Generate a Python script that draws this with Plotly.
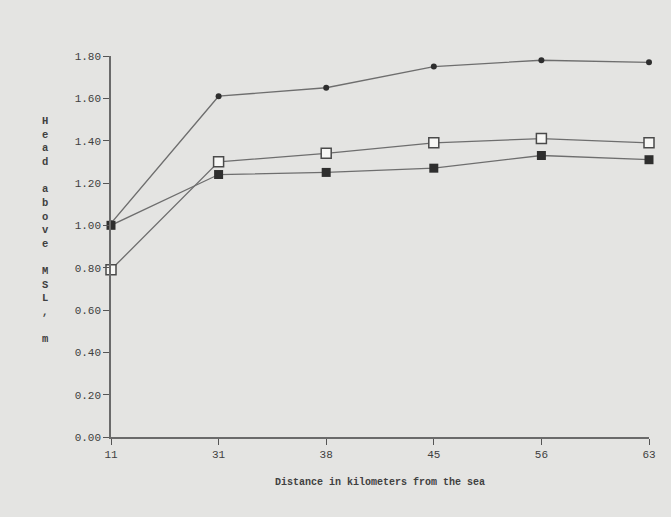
import plotly.graph_objects as go

# Distance from the sea (km), shown as evenly spaced categories
distance_km = ["11", "31", "38", "45", "56", "63"]

# Head above mean sea level (m) for three wells / observation series
head_series_a = [1.01, 1.61, 1.65, 1.75, 1.78, 1.77]   # filled dots
head_series_b = [0.79, 1.30, 1.34, 1.39, 1.41, 1.39]   # open squares
head_series_c = [1.00, 1.24, 1.25, 1.27, 1.33, 1.31]   # filled squares

y_ticks = [0.0, 0.2, 0.4, 0.6, 0.8, 1.0, 1.2, 1.4, 1.6, 1.8]
y_title = "Head above MSL, m"

line_col = "#6e6e6e"
mark_col = "#2e2e2e"
text_col = "#404040"
bg = "#e4e4e2"
mono = "Liberation Mono, DejaVu Sans Mono, monospace"

fig = go.Figure()

fig.add_trace(go.Scatter(
    x=distance_km, y=head_series_a, mode="lines+markers",
    line=dict(color=line_col, width=1.3),
    marker=dict(symbol="circle", size=6, color=mark_col),
    cliponaxis=False, showlegend=False))

fig.add_trace(go.Scatter(
    x=distance_km, y=head_series_b, mode="lines+markers",
    line=dict(color=line_col, width=1.3),
    marker=dict(symbol="square", size=10, color="#f7f7f5",
                line=dict(color="#4a4a4a", width=1.5)),
    cliponaxis=False, showlegend=False))

fig.add_trace(go.Scatter(
    x=distance_km, y=head_series_c, mode="lines+markers",
    line=dict(color=line_col, width=1.3),
    marker=dict(symbol="square", size=9, color=mark_col),
    cliponaxis=False, showlegend=False))

# short upward tick halves so the x ticks cross the axis line
for cat in distance_km:
    fig.add_shape(type="line", xref="x", yref="paper",
                  x0=cat, x1=cat, y0=0, y1=0.013,
                  line=dict(color="#555555", width=1.2))

# stacked, one-letter-per-line vertical axis label
fig.add_annotation(
    text="<b>" + "<br>".join(y_title) + "</b>",
    xref="paper", yref="paper", x=-0.121, y=0.543,
    xanchor="center", yanchor="middle", showarrow=False,
    font=dict(family=mono, size=10.5, color=text_col))

fig.update_layout(
    width=671, height=517,
    margin=dict(l=111, r=22, t=56, b=80),
    paper_bgcolor=bg, plot_bgcolor=bg,
    font=dict(family=mono, color=text_col),
    xaxis=dict(
        type="category", range=[0, 5],
        showgrid=False, zeroline=False,
        showline=True, linecolor="#6a6a6a", linewidth=1.5,
        ticks="outside", ticklen=6, tickwidth=1.2, tickcolor="#555555",
        tickfont=dict(family=mono, size=11, color=text_col),
        title=dict(text="<b>Distance in kilometers from the sea</b>",
                   font=dict(family=mono, size=10, color=text_col),
                   standoff=18)),
    yaxis=dict(
        range=[0, 1.8], tickvals=y_ticks, tickformat=".2f",
        showgrid=False, zeroline=False,
        showline=True, linecolor="#6a6a6a", linewidth=1.5,
        ticks="outside", ticklen=6, tickwidth=1.2, tickcolor="#555555",
        tickfont=dict(family=mono, size=11, color=text_col)),
)

fig.write_html("out.html")
